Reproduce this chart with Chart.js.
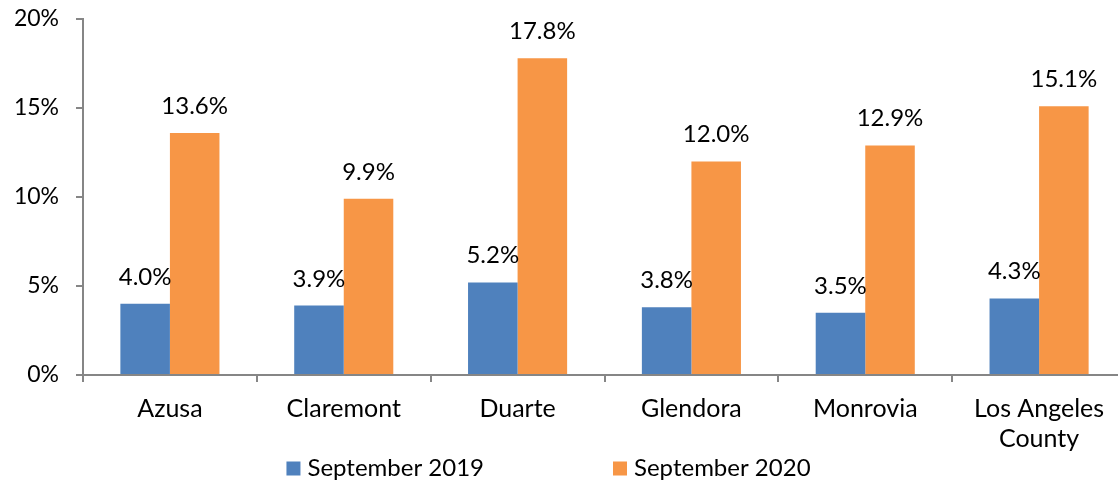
<!DOCTYPE html>
<html>
<head>
<meta charset="utf-8">
<script src="https://cdn.jsdelivr.net/npm/chart.js@4/dist/chart.umd.min.js"></script>
<style>
  html, body { margin: 0; padding: 0; background: #fff; overflow: hidden; }
  #wrap { width: 1118px; height: 487px; overflow: hidden; position: relative; }
  canvas { display: block; }
</style>
</head>
<body>
<div id="wrap"><canvas id="c" width="1126" height="487"></canvas></div>
<script>
const categories = ["Azusa", "Claremont", "Duarte", "Glendora", "Monrovia", ["Los Angeles", "County"]];
const seriesNames = ["September 2019", "September 2020"];
const sep2019 = [4.0, 3.9, 5.2, 3.8, 3.5, 4.3];
const sep2020 = [13.6, 9.9, 17.8, 12.0, 12.9, 15.1];
const yTicks = [0, 5, 10, 15, 20];

const FONT = "Lato, 'Liberation Sans', sans-serif";
const AXIS = "#868686";
const colors = ["#4F81BD", "#F79646"];

const dataLabels = {
  id: "dataLabels",
  afterDatasetsDraw(chart) {
    const ctx = chart.ctx;
    ctx.save();
    ctx.font = "24px " + FONT;
    ctx.fillStyle = "#000";
    ctx.textAlign = "center";
    ctx.textBaseline = "alphabetic";
    chart.data.datasets.forEach((ds, di) => {
      chart.getDatasetMeta(di).data.forEach((bar, i) => {
        ctx.fillText(ds.data[i].toFixed(1) + "%", bar.x, bar.y - 19);
      });
    });
    ctx.restore();
  }
};

const customLegend = {
  id: "customLegend",
  afterDraw(chart) {
    const ctx = chart.ctx;
    ctx.save();
    ctx.font = "24px " + FONT;
    const box = 14, textGap = 7, itemGap = 129;
    const items = chart.data.datasets.map(ds => ({ label: ds.label, color: ds.backgroundColor, w: ctx.measureText(ds.label).width }));
    let total = 0;
    items.forEach((it, i) => { total += box + textGap + it.w + (i < items.length - 1 ? itemGap : 0); });
    let x = 548.5 - total / 2;
    const yc = 468.5;
    items.forEach(it => {
      ctx.fillStyle = it.color;
      ctx.fillRect(x, yc - box / 2, box, box);
      ctx.fillStyle = "#000";
      ctx.textAlign = "left";
      ctx.textBaseline = "middle";
      ctx.fillText(it.label, x + box + textGap, yc);
      x += box + textGap + it.w + itemGap;
    });
    ctx.restore();
  }
};

new Chart(document.getElementById("c"), {
  type: "bar",
  data: {
    labels: categories,
    datasets: [
      { label: seriesNames[0], data: sep2019, backgroundColor: colors[0] },
      { label: seriesNames[1], data: sep2020, backgroundColor: colors[1] }
    ]
  },
  options: {
    responsive: false,
    animation: false,
    devicePixelRatio: 1,
    layout: { padding: { top: 19, right: 0, bottom: 0, left: 0 } },
    categoryPercentage: 0.57,
    barPercentage: 1.0,
    plugins: { legend: { display: false }, tooltip: { enabled: false } },
    scales: {
      x: {
        type: "category",
        offset: true,
        afterFit: (s) => { s.height = 112; s.paddingLeft = 0; s.paddingRight = 0; s.paddingTop = 0; s.paddingBottom = 0; },
        grid: { display: true, offset: true, drawOnChartArea: false, drawTicks: true, tickLength: 7, color: AXIS, lineWidth: 2 },
        border: { display: true, color: AXIS, width: 2 },
        ticks: { color: "#000", font: { family: FONT, size: 25 }, padding: 12, maxRotation: 0, autoSkip: false }
      },
      y: {
        min: 0, max: 20,
        afterFit: (s) => { s.width = 83; s.paddingTop = 0; s.paddingBottom = 0; s.paddingLeft = 0; s.paddingRight = 0; },
        afterBuildTicks: (s) => { s.ticks = yTicks.map(v => ({ value: v })); },
        grid: { display: true, drawOnChartArea: false, drawTicks: true, tickLength: 7, color: AXIS, lineWidth: 2 },
        border: { display: true, color: AXIS, width: 2 },
        ticks: { color: "#000", font: { family: FONT, size: 23 }, padding: 17, callback: (v) => v + "%" }
      }
    }
  },
  plugins: [dataLabels, customLegend]
});
</script>
</body>
</html>
